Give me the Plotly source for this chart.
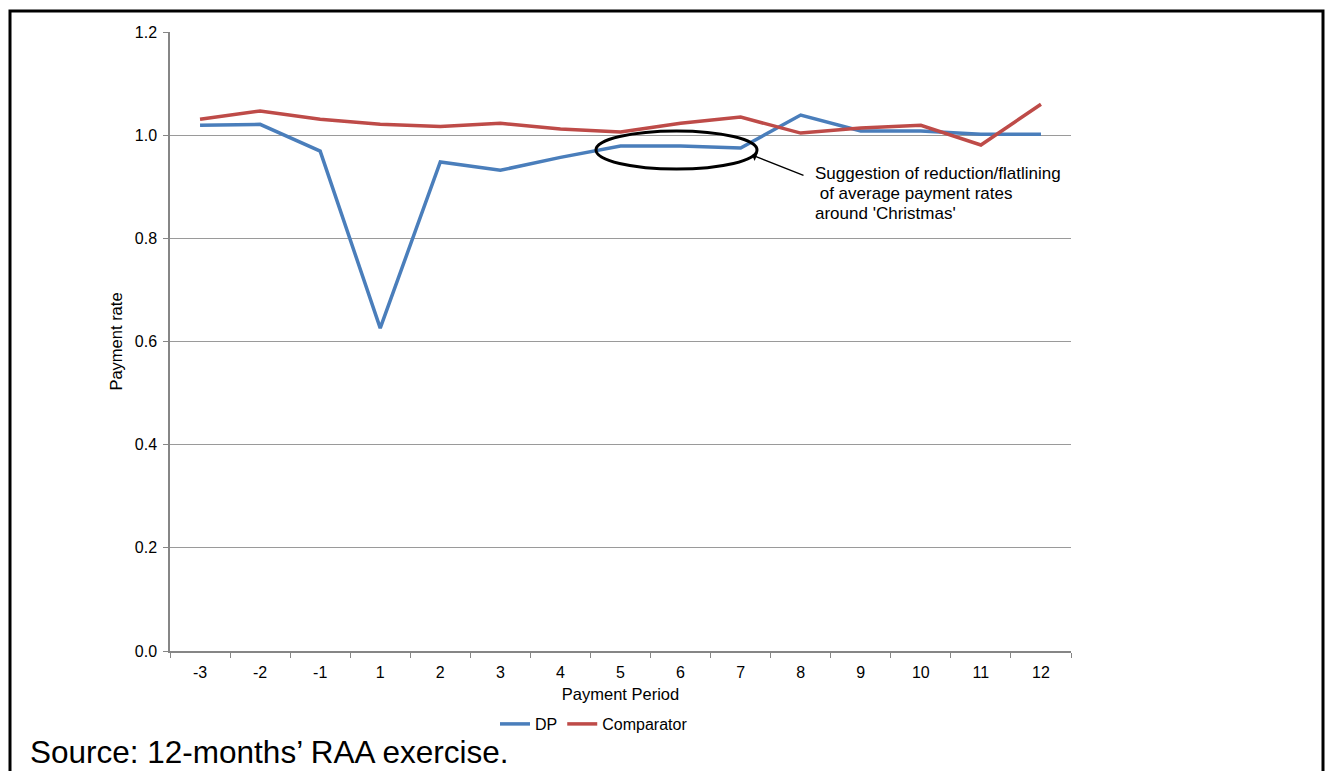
import plotly.graph_objects as go

periods = ["-3", "-2", "-1", "1", "2", "3", "4", "5", "6", "7", "8", "9", "10", "11", "12"]
dp = [1.019, 1.021, 0.969, 0.626, 0.948, 0.932, 0.957, 0.979, 0.979, 0.975, 1.039, 1.008, 1.008, 1.002, 1.002]
comparator = [1.031, 1.047, 1.031, 1.021, 1.017, 1.023, 1.012, 1.006, 1.023, 1.035, 1.004, 1.014, 1.019, 0.981, 1.060]
y_ticks = [0.0, 0.2, 0.4, 0.6, 0.8, 1.0, 1.2]
note_lines = ["Suggestion of reduction/flatlining", " of average payment rates", "around 'Christmas'"]

FONT = "Arial, 'Liberation Sans', sans-serif"
W, H = 1325, 771
L, R, T, B = 170, 1071, 32, 651
pw, ph = R - L, B - T


def px(x):
    return (x - L) / pw


def py(y):
    return (B - y) / ph


fig = go.Figure()
fig.add_trace(go.Scatter(x=periods, y=dp, mode="lines", name="DP",
                         line=dict(color="#4A7EBB", width=3.5)))
fig.add_trace(go.Scatter(x=periods, y=comparator, mode="lines", name="Comparator",
                         line=dict(color="#BE4B48", width=3.5)))

fig.update_layout(
    width=W, height=H,
    margin=dict(l=L, r=W - R, t=T, b=H - B),
    paper_bgcolor="white", plot_bgcolor="white",
    font=dict(family=FONT, size=16, color="black"),
    showlegend=True,
    legend=dict(orientation="h", x=px(594), xanchor="center", y=py(724), yanchor="middle",
                font=dict(size=16), itemwidth=30, tracegroupgap=0),
    xaxis=dict(type="category", range=[-0.5, 14.5], showgrid=False, showline=True,
               linecolor="#868686", linewidth=1.5,
               ticks="outside", tickson="boundaries", ticklen=5, tickcolor="#868686",
               tickfont=dict(size=16), ticklabelstandoff=6,
               title=dict(text="Payment Period", font=dict(size=16.5), standoff=8)),
    yaxis=dict(range=[0, 1.2], tickvals=y_ticks, tickformat=".1f", showgrid=True, gridcolor="#9a9a9a",
               gridwidth=1, showline=True, linecolor="#868686", linewidth=1.5, ticks="outside",
               ticklen=5, tickcolor="#868686", tickfont=dict(size=16), zeroline=False,
               ticklabelstandoff=3,
               title=dict(text="Payment rate", font=dict(size=16.5), standoff=8)),
)

# Ellipse highlighting the flatlining
fig.add_shape(type="circle", xref="paper", yref="paper",
              x0=px(596), x1=px(757), y0=py(169), y1=py(131),
              line=dict(color="black", width=3))

# Arrow
fig.add_annotation(xref="paper", yref="paper", x=px(752), y=py(155), ax=53, ay=21,
                   text="", showarrow=True, arrowhead=1, arrowsize=1.2, arrowwidth=1.3,
                   arrowcolor="black")

# Annotation text (one line per annotation to match the tighter line spacing)
for i, line in enumerate(note_lines):
    fig.add_annotation(xref="paper", yref="paper", x=px(813), y=py(174 + 19.5 * i),
                       xanchor="left", yanchor="middle", text=line.replace(" ", "&nbsp;", 1) if line.startswith(" ") else line,
                       showarrow=False, align="left", font=dict(size=17, family=FONT, color="black"))

# Source text
fig.add_annotation(xref="paper", yref="paper", x=px(28), y=py(752), xanchor="left", yanchor="middle",
                   text="Source: 12-months’ RAA exercise.", showarrow=False,
                   font=dict(size=31.5, family=FONT, color="black"))

# Outer border
fig.add_shape(type="rect", xref="paper", yref="paper",
              x0=px(10), x1=px(1323), y0=py(800), y1=py(11),
              line=dict(color="black", width=3))

fig.write_html("out.html", config={"displayModeBar": False},
               post_script="document.body.style.margin='0';document.body.style.overflow='hidden';")
